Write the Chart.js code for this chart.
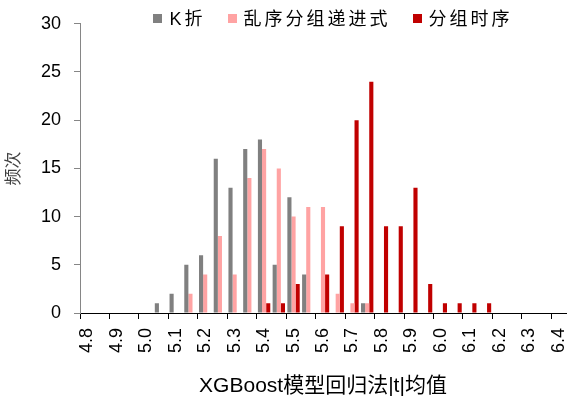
<!DOCTYPE html>
<html>
<head>
<meta charset="utf-8">
<script src="https://cdn.jsdelivr.net/npm/chart.js@4/dist/chart.umd.min.js"></script>
<style>
html,body{margin:0;padding:0;background:#fff;}
#wrap{width:568px;height:400px;position:relative;}
</style>
</head>
<body>
<div id="wrap"><canvas id="c" width="568" height="400"></canvas></div>
<script>
// ---- data ----
const categories = ['4.80','4.85','4.90','4.95','5.00','5.05','5.10','5.15','5.20','5.25','5.30',
  '5.35','5.40','5.45','5.50','5.55','5.60','5.65','5.70','5.75','5.80','5.85','5.90','5.95',
  '6.00','6.05','6.10','6.15','6.20','6.25','6.30','6.35','6.40'];
const tickLabels = ['4.8','4.9','5.0','5.1','5.2','5.3','5.4','5.5','5.6','5.7','5.8','5.9',
  '6.0','6.1','6.2','6.3','6.4'];
const seriesNames = ['K折','乱序分组递进式','分组时序'];
const kfold    = [0,0,0,0,0,1,2,5,6,16,13,17,18,5,12,4,0,0,0,1,0,0,0,0,0,0,0,0,0,0,0,0,0];
const shuffled = [0,0,0,0,0,0,0,2,4,8,4,14,17,15,10,11,11,2,1,1,0,0,0,0,0,0,0,0,0,0,0,0,0];
const grouped  = [0,0,0,0,0,0,0,0,0,0,0,0,1,1,3,0,4,9,20,24,9,9,13,3,1,1,1,1,0,0,0,0,0];
const xTitle = 'XGBoost模型回归法|t|均值';
const yTitle = '频次';

// ---- style ----
const FONT = "'Liberation Sans', Arial, 'Noto Sans CJK SC', sans-serif";
const colors = ['#808080', '#FFA3A3', '#C00000'];

const topLegend = {
  id: 'topLegend',
  afterDraw(chart) {
    const ctx = chart.ctx;
    ctx.save();
    ctx.font = '18px ' + FONT;
    try { ctx.letterSpacing = '3px'; } catch (e) {}
    ctx.textBaseline = 'middle';
    ctx.textAlign = 'left';
    const items = chart.data.datasets.map(d => ({ text: d.label, color: d.backgroundColor }));
    const box = 9, gap = 7, spacing = 22;
    const widths = items.map(it => ctx.measureText(it.text).width);
    let total = 0;
    items.forEach((it, i) => { total += box + gap + widths[i]; });
    total += spacing * (items.length - 1);
    const ca = chart.chartArea;
    let x = (ca.left + ca.right) / 2 - total / 2 + 10;
    const y = 19;
    items.forEach((it, i) => {
      ctx.fillStyle = it.color;
      ctx.fillRect(Math.round(x), Math.round(y - 5), box, box);
      ctx.fillStyle = '#000';
      ctx.fillText(it.text, x + box + gap, y + 1);
      x += box + gap + widths[i] + spacing;
    });
    ctx.restore();
  }
};

new Chart(document.getElementById('c'), {
  type: 'bar',
  data: {
    labels: categories,
    datasets: [
      { label: seriesNames[0], data: kfold, backgroundColor: colors[0] },
      { label: seriesNames[1], data: shuffled, backgroundColor: colors[1] },
      { label: seriesNames[2], data: grouped, backgroundColor: colors[2] }
    ]
  },
  options: {
    responsive: false,
    animation: false,
    datasets: { bar: { categoryPercentage: 0.84, barPercentage: 1.0, borderWidth: 0 } },
    layout: { padding: { left: 0, right: 2, top: 20, bottom: 1 } },
    plugins: { legend: { display: false }, tooltip: { enabled: false } },
    scales: {
      x: {
        offset: true,
        grid: {
          offset: true,
          drawOnChartArea: false,
          tickLength: 6,
          color: c => (c.index % 2 === 0 ? '#000' : 'rgba(0,0,0,0)')
        },
        border: { color: '#000', width: 1 },
        ticks: {
          autoSkip: false,
          maxRotation: 90,
          minRotation: 90,
          padding: 9,
          color: '#000',
          font: { family: FONT, size: 18 },
          callback: (v, i) => (i % 2 === 0 ? tickLabels[i / 2] : '')
        },
        title: {
          display: true,
          text: xTitle,
          color: '#000',
          font: { family: FONT, size: 21 },
          padding: { top: 4, bottom: 0 }
        },
        afterFit: s => { s.height = 86; s.paddingRight = 0; s.paddingLeft = 0; }
      },
      y: {
        min: 0,
        max: 30,
        grid: { drawOnChartArea: false, tickLength: 6, color: '#868686' },
        border: { color: '#868686', width: 1 },
        ticks: {
          stepSize: 5,
          padding: 13,
          color: '#000',
          font: { family: FONT, size: 18 }
        },
        title: {
          display: true,
          text: yTitle,
          color: '#404040',
          font: { family: FONT, size: 17 },
          padding: { top: 4, bottom: 0 }
        },
        afterFit: s => { s.width = 80; }
      }
    }
  },
  plugins: [topLegend]
});
</script>
</body>
</html>
